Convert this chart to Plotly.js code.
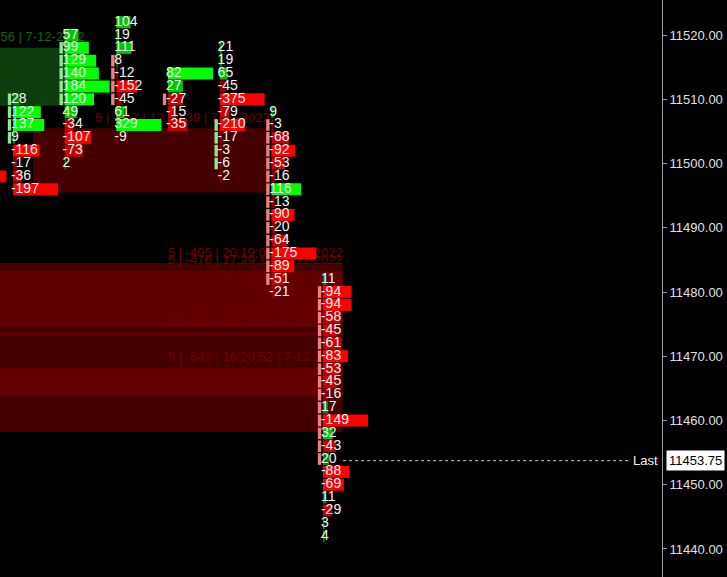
<!DOCTYPE html>
<html>
<head>
<meta charset="utf-8">
<script src="https://cdn.plot.ly/plotly-3.0.1.min.js"></script>
<style>
  html, body { margin:0; padding:0; background:#000000; }
  #chartdiv { width:727px; height:577px; }
</style>
</head>
<body>
<div id="chartdiv"></div>
<script>
// footprint columns: price of the top row in each bar, then delta per row (2 pt rows)
const priceStep = 2;
const topPrice = [11498, 11510, 11520, 11522, 11514, 11518, 11508, 11482];
const deltaA = [-186];
const deltaB = [28, 122, 137, 9, -116, -17, -36, -197];
const deltaC = [57, 99, 129, 140, 184, 120, 49, -34, -107, -73, 2];
const deltaD = [104, 19, 111, 8, -12, -152, -45, 61, 329, -9];
const deltaE = [82, 27, -27, -15, -35];
const deltaF = [21, 19, 65, -45, -375, -79, -210, -17, -3, -6, -2];
const deltaG = [9, -3, -68, -92, -53, -16, 116, -13, -90, -20, -64, -175, -89, -51, -21];
const deltaH = [11, -94, -94, -58, -45, -61, -83, -53, -45, -16, 17, -149, 32, -43, 20, -88, -69, 11, -29, 3, 4];
const deltas = [deltaA, deltaB, deltaC, deltaD, deltaE, deltaF, deltaG, deltaH];

// stacked imbalance runs
const stackCol = [1, 2, 3, 4, 5, 6, 7];
const stackTop = [11510, 11518, 11516, 11510, 11506, 11506, 11480];
const stackBottom = [11504, 11510, 11510, 11510, 11500, 11482, 11454];
const stackSide = ['buy', 'buy', 'sell', 'sell', 'buy', 'sell', 'sell'];

// absorption zones (x in bar index)
const zoneStart = [0, 1.39, 0, 0, 0, 0];
const zoneEnd = [2.39, 5.97, 7.38, 7.38, 7.38, 7.38];
const zoneTop = [11518, 11505.5, 11484.5, 11483.3, 11473.75, 11468.2];
const zoneBottom = [11509, 11495.5, 11458.2, 11474.6, 11473.25, 11463.8];
const zoneSide = ['buy', 'sell', 'sell', 'sell', 'sell', 'sell'];
const zoneLabel = [
  '12:38:56 | 7-12-2022',
  '5 | -357 | 12:42:39 | 7-12-2022',
  '5 | -495 | 20:19:06 | 7-12-2022',
  '5 | -476 | 17:29:14 | 7-12-2022',
  '5 | -255 | 16:32:12 | 7-12-2022',
  '5 | -643 | 16:29:52 | 7-12-2022'
];

const lastPrice = 11453.75;

const font = 'Liberation Sans, Arial, sans-serif';
const colPx = 51.67;
const xMin = 1 - 13 / colPx;
const xMax = xMin + 662 / colPx;
const yMin = 11435.64, yMax = 11525.45;

function shade(v, r){
  if (v >= 0){
    if (r >= 0.45) return '#00ff00';
    if (r >= 0.15) return '#00c800';
    return '#008a00';
  }
  if (r >= 0.45) return '#ff0000';
  if (r >= 0.15) return '#c80000';
  return '#8a0000';
}

// cells
let cellY = [], cellBase = [], cellLen = [], cellColor = [];
let textX = [], textY = [], text = [];
deltas.forEach((vals, c) => {
  const maxAbs = Math.max(...vals.map(Math.abs));
  vals.forEach((v, i) => {
    const p = topPrice[c] - i * priceStep;
    const r = Math.abs(v) / maxAbs;
    cellY.push(p);
    cellBase.push(c);
    cellLen.push(Math.max(0.87 * r, 0.03));
    cellColor.push(shade(v, r));
    textX.push(c - 0.04);
    textY.push(p);
    text.push(String(v));
  });
});

// stack markers, one segment per row
let stY = [], stBase = [], stColor = [];
stackCol.forEach((c, k) => {
  for (let p = stackTop[k]; p >= stackBottom[k]; p -= priceStep){
    stY.push(p);
    stBase.push(c - 0.1);
    stColor.push(stackSide[k] == 'buy' ? '#8fe88f' : '#f08080');
  }
});

const data = [
  { // zone labels, under the footprint
    type: 'scatter', mode: 'text',
    x: zoneEnd, y: zoneTop.map(t => t + 1.5),
    text: zoneLabel, textposition: 'middle left',
    textfont: {family: font, size: 13, color: zoneSide.map(s => s == 'buy' ? '#166216' : '#700000')},
    hoverinfo: 'skip', cliponaxis: true
  },
  {
    type: 'bar', orientation: 'h',
    y: cellY, x: cellLen, base: cellBase, width: 1.86,
    marker: {color: cellColor, line: {width: 0}},
    xaxis: 'x2', yaxis: 'y2', hoverinfo: 'skip'
  },
  {
    type: 'bar', orientation: 'h',
    y: stY, x: stY.map(() => 0.065), base: stBase, width: 1.8,
    marker: {color: stColor, line: {width: 0}},
    xaxis: 'x2', yaxis: 'y2', hoverinfo: 'skip'
  },
  {
    type: 'scatter', mode: 'text',
    x: textX, y: textY, text: text, textposition: 'middle right',
    textfont: {family: font, size: 14, color: '#f4f4f4'},
    xaxis: 'x2', yaxis: 'y2', hoverinfo: 'skip', cliponaxis: true
  }
];

const shapes = zoneStart.map((x0, k) => ({
  type: 'rect', xref: 'x', yref: 'y', layer: 'below',
  x0: x0, x1: zoneEnd[k], y0: zoneBottom[k], y1: zoneTop[k],
  fillcolor: zoneSide[k] == 'buy' ? 'rgba(22,109,22,0.56)' : 'rgba(121,0,0,0.56)',
  line: {width: 0}
}));
shapes.push({
  type: 'line', xref: 'x', yref: 'y',
  x0: deltas.length - 1 + 0.39, x1: xMin + 630 / colPx,
  y0: lastPrice, y1: lastPrice,
  line: {color: '#d0d0d0', width: 1, dash: 'dot'}
});

const layout = {
  width: 727, height: 577,
  margin: {l: 0, r: 65, t: 0, b: 0},
  paper_bgcolor: '#000000',
  plot_bgcolor: '#000000',
  showlegend: false,
  barmode: 'overlay',
  xaxis: {range: [xMin, xMax], visible: false, fixedrange: true},
  yaxis: {
    range: [yMin, yMax], side: 'right',
    dtick: 10, tick0: 11440, tickformat: '.2f',
    ticks: 'outside', ticklen: 4, tickcolor: '#9a9a9a',
    showline: true, linecolor: '#9a9a9a', linewidth: 1,
    showgrid: false, zeroline: false,
    tickfont: {family: font, size: 13, color: '#e0e0e0'}
  },
  xaxis2: {range: [xMin, xMax], overlaying: 'x', visible: false},
  yaxis2: {range: [yMin, yMax], overlaying: 'y', visible: false},
  shapes: shapes,
  annotations: [
    {
      xref: 'paper', yref: 'y', x: 1, y: lastPrice, xanchor: 'right', xshift: -2,
      text: 'Last', showarrow: false,
      font: {family: font, size: 13, color: '#f0f0f0'}
    },
    {
      xref: 'paper', yref: 'y', x: 1, y: lastPrice, xanchor: 'left', xshift: 4,
      text: lastPrice.toFixed(2), showarrow: false,
      bgcolor: '#ffffff', borderpad: 2,
      font: {family: font, size: 13, color: '#000000'}
    }
  ]
};

Plotly.newPlot(chartdiv, data, layout, {displayModeBar: false, staticPlot: true});
</script>
</body>
</html>
